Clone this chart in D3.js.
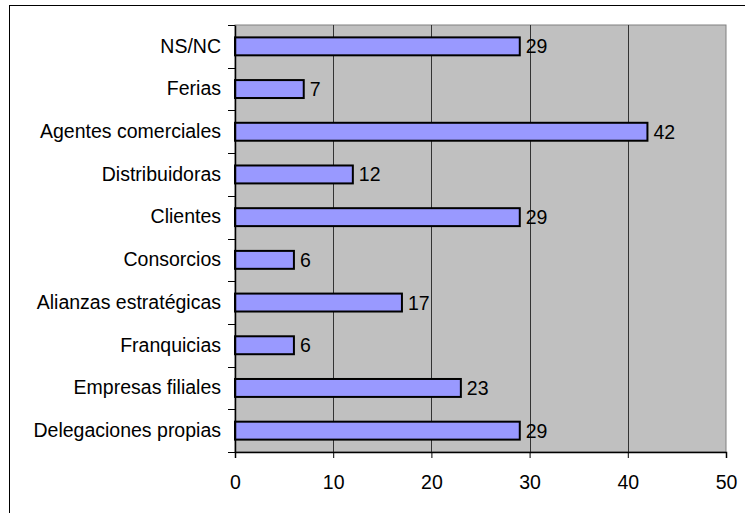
<!DOCTYPE html>
<html>
<head>
<meta charset="utf-8">
<script src="https://cdn.jsdelivr.net/npm/d3@7"></script>
<style>
  html, body { margin: 0; padding: 0; background: #fff; }
  svg { display: block; }
  svg text { font-family: "Liberation Sans", Arial, sans-serif; font-size: 19.5px; fill: #000; }
</style>
</head>
<body>
<svg id="chart" width="745" height="513"></svg>
<script>
// Canales de internacionalización (número de respuestas)
const categories = [
  "NS/NC",
  "Ferias",
  "Agentes comerciales",
  "Distribuidoras",
  "Clientes",
  "Consorcios",
  "Alianzas estratégicas",
  "Franquicias",
  "Empresas filiales",
  "Delegaciones propias"
];
const values = [29, 7, 42, 12, 29, 6, 17, 6, 23, 29];
const xTicks = [0, 10, 20, 30, 40, 50];

const svg = d3.select("#chart");
const W = 745, H = 513;
const FONT = "'Liberation Sans', Arial, sans-serif";
const FS = "19.5px";

// Outer frame (only left and top edges fall inside the canvas)
svg.append("rect")
  .attr("x", 9.5).attr("y", 5.5)
  .attr("width", W + 10).attr("height", H + 10)
  .attr("fill", "#fff").attr("stroke", "#000").attr("stroke-width", 1);

const plot = { left: 235, right: 726, top: 25, bottom: 452 };

const x = d3.scaleLinear().domain([0, 50]).range([plot.left, plot.right]);
const y = d3.scaleBand().domain(categories)
  .range([plot.top, plot.bottom]).paddingInner(0.58).paddingOuter(0.29);
const yBand = d3.scaleBand().domain(categories).range([plot.top, plot.bottom]);

// Plot background
svg.append("rect")
  .attr("x", plot.left).attr("y", plot.top)
  .attr("width", plot.right - plot.left).attr("height", plot.bottom - plot.top)
  .attr("fill", "#c0c0c0").attr("stroke", "#808080").attr("stroke-width", 1);

// Vertical gridlines
svg.append("g").selectAll("line")
  .data(xTicks.filter(t => t > 0 && t < 50))
  .join("line")
  .attr("x1", d => Math.round(x(d)) + 0.5).attr("x2", d => Math.round(x(d)) + 0.5)
  .attr("y1", plot.top).attr("y2", plot.bottom)
  .attr("stroke", "#333").attr("stroke-width", 1);

// Bars
svg.append("g").selectAll("rect")
  .data(categories)
  .join("rect")
  .attr("x", x(0))
  .attr("y", d => y(d))
  .attr("width", (d, i) => x(values[i]) - x(0))
  .attr("height", y.bandwidth())
  .attr("fill", "#9999ff")
  .attr("stroke", "#000").attr("stroke-width", 2);

// Value labels
svg.append("g").selectAll("text")
  .data(categories)
  .join("text")
  .attr("x", (d, i) => x(values[i]) + 6)
  .attr("y", d => y(d) + y.bandwidth() / 2)
  .attr("dy", "0.36em")
  .style("font-size", FS)
  .text((d, i) => values[i]);

// Category axis
const yAxis = d3.axisLeft(yBand).tickSize(0).tickPadding(14);
const gy = svg.append("g").attr("transform", `translate(${plot.left},0)`).call(yAxis);
gy.attr("font-size", null).attr("font-family", null);
gy.select(".domain").attr("stroke", "#000").attr("stroke-width", 1.5);
gy.selectAll("text").style("font-size", FS).style("font-family", FONT).attr("fill", "#000");
// Tick marks between categories
const bounds = categories.map(c => yBand(c)).concat([plot.bottom]);
gy.selectAll(".sep").data(bounds).join("line").attr("class", "sep")
  .attr("x1", -7).attr("x2", 0)
  .attr("y1", d => Math.round(d) + 0.5).attr("y2", d => Math.round(d) + 0.5)
  .attr("stroke", "#000");

// Value axis
const xAxis = d3.axisBottom(x).tickValues(xTicks).tickSize(6).tickPadding(17);
const gx = svg.append("g").attr("transform", `translate(0,${plot.bottom})`).call(xAxis);
gx.attr("font-size", null).attr("font-family", null);
gx.select(".domain").attr("stroke", "#000").attr("stroke-width", 1.5);
gx.selectAll("line").attr("stroke", "#000");
gx.selectAll("text").style("font-size", FS).style("font-family", FONT).attr("fill", "#000");
</script>
</body>
</html>
